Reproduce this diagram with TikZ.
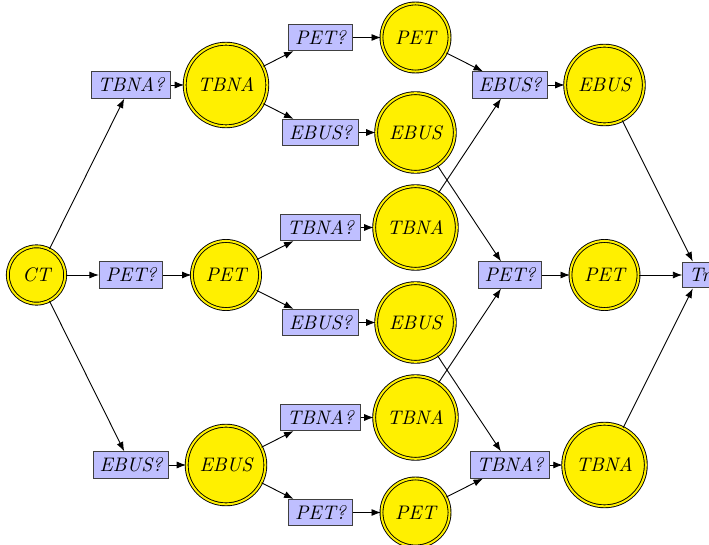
\documentclass[tikz,border=0pt]{standalone}
\usetikzlibrary{arrows.meta}
\font\nodefont=cmti10 at 19.6pt
\definecolor{nodeyellow}{RGB}{255,240,0}
\definecolor{qblue}{RGB}{191,191,255}
\begin{document}
\begin{tikzpicture}[x=1pt,y=-1pt,
  every node/.style={font=\nodefont},
  state/.style={circle, draw=black, line width=0.9pt, double=nodeyellow, double distance=2pt, fill=nodeyellow, inner sep=9.6pt},
  query/.style={rectangle, draw=black!75, line width=1pt, fill=qblue, inner sep=6.3pt},
  arr/.style={-{Latex[length=9.5pt,width=7pt]}, line width=0.9pt}]
\useasboundingbox (0,0) rectangle (709,545);
\node[state] (ct) at (36.5,275) {CT};
\node[query] (qa) at (131,85) {TBNA?};
\node[query] (qb) at (131,275) {PET?};
\node[query] (qc) at (131,465) {EBUS?};
\node[state] (sa) at (226,85) {TBNA};
\node[state] (sb) at (226,275) {PET};
\node[state] (sc) at (226,465) {EBUS};
\node[query] (q1) at (320.5,37.5) {PET?};
\node[query] (q2) at (320.5,132.5) {EBUS?};
\node[query] (q3) at (320.5,227.5) {TBNA?};
\node[query] (q4) at (320.5,322.5) {EBUS?};
\node[query] (q5) at (320.5,417.5) {TBNA?};
\node[query] (q6) at (320.5,512.5) {PET?};
\node[state] (s1) at (415.5,37.5) {PET};
\node[state] (s2) at (415.5,132.5) {EBUS};
\node[state] (s3) at (415.5,227.5) {TBNA};
\node[state] (s4) at (415.5,322.5) {EBUS};
\node[state] (s5) at (415.5,417.5) {TBNA};
\node[state] (s6) at (415.5,512.5) {PET};
\node[query] (ra) at (510,85) {EBUS?};
\node[query] (rb) at (510,275) {PET?};
\node[query] (rc) at (510,465) {TBNA?};
\node[state] (ta) at (604.5,85) {EBUS};
\node[state] (tb) at (604.5,275) {PET};
\node[state] (tc) at (604.5,465) {TBNA};
\node[query] (tr) at (699.5,275) {Tr};
\foreach \a/\b in {ct/qa,ct/qb,ct/qc,qa/sa,qb/sb,qc/sc,
  sa/q1,sa/q2,sb/q3,sb/q4,sc/q5,sc/q6,
  q1/s1,q2/s2,q3/s3,q4/s4,q5/s5,q6/s6,
  s1/ra,s3/ra,s2/rb,s5/rb,s4/rc,s6/rc,
  ra/ta,rb/tb,rc/tc,ta/tr,tb/tr,tc/tr}
  \draw[arr] (\a) -- (\b);
\end{tikzpicture}
\end{document}
